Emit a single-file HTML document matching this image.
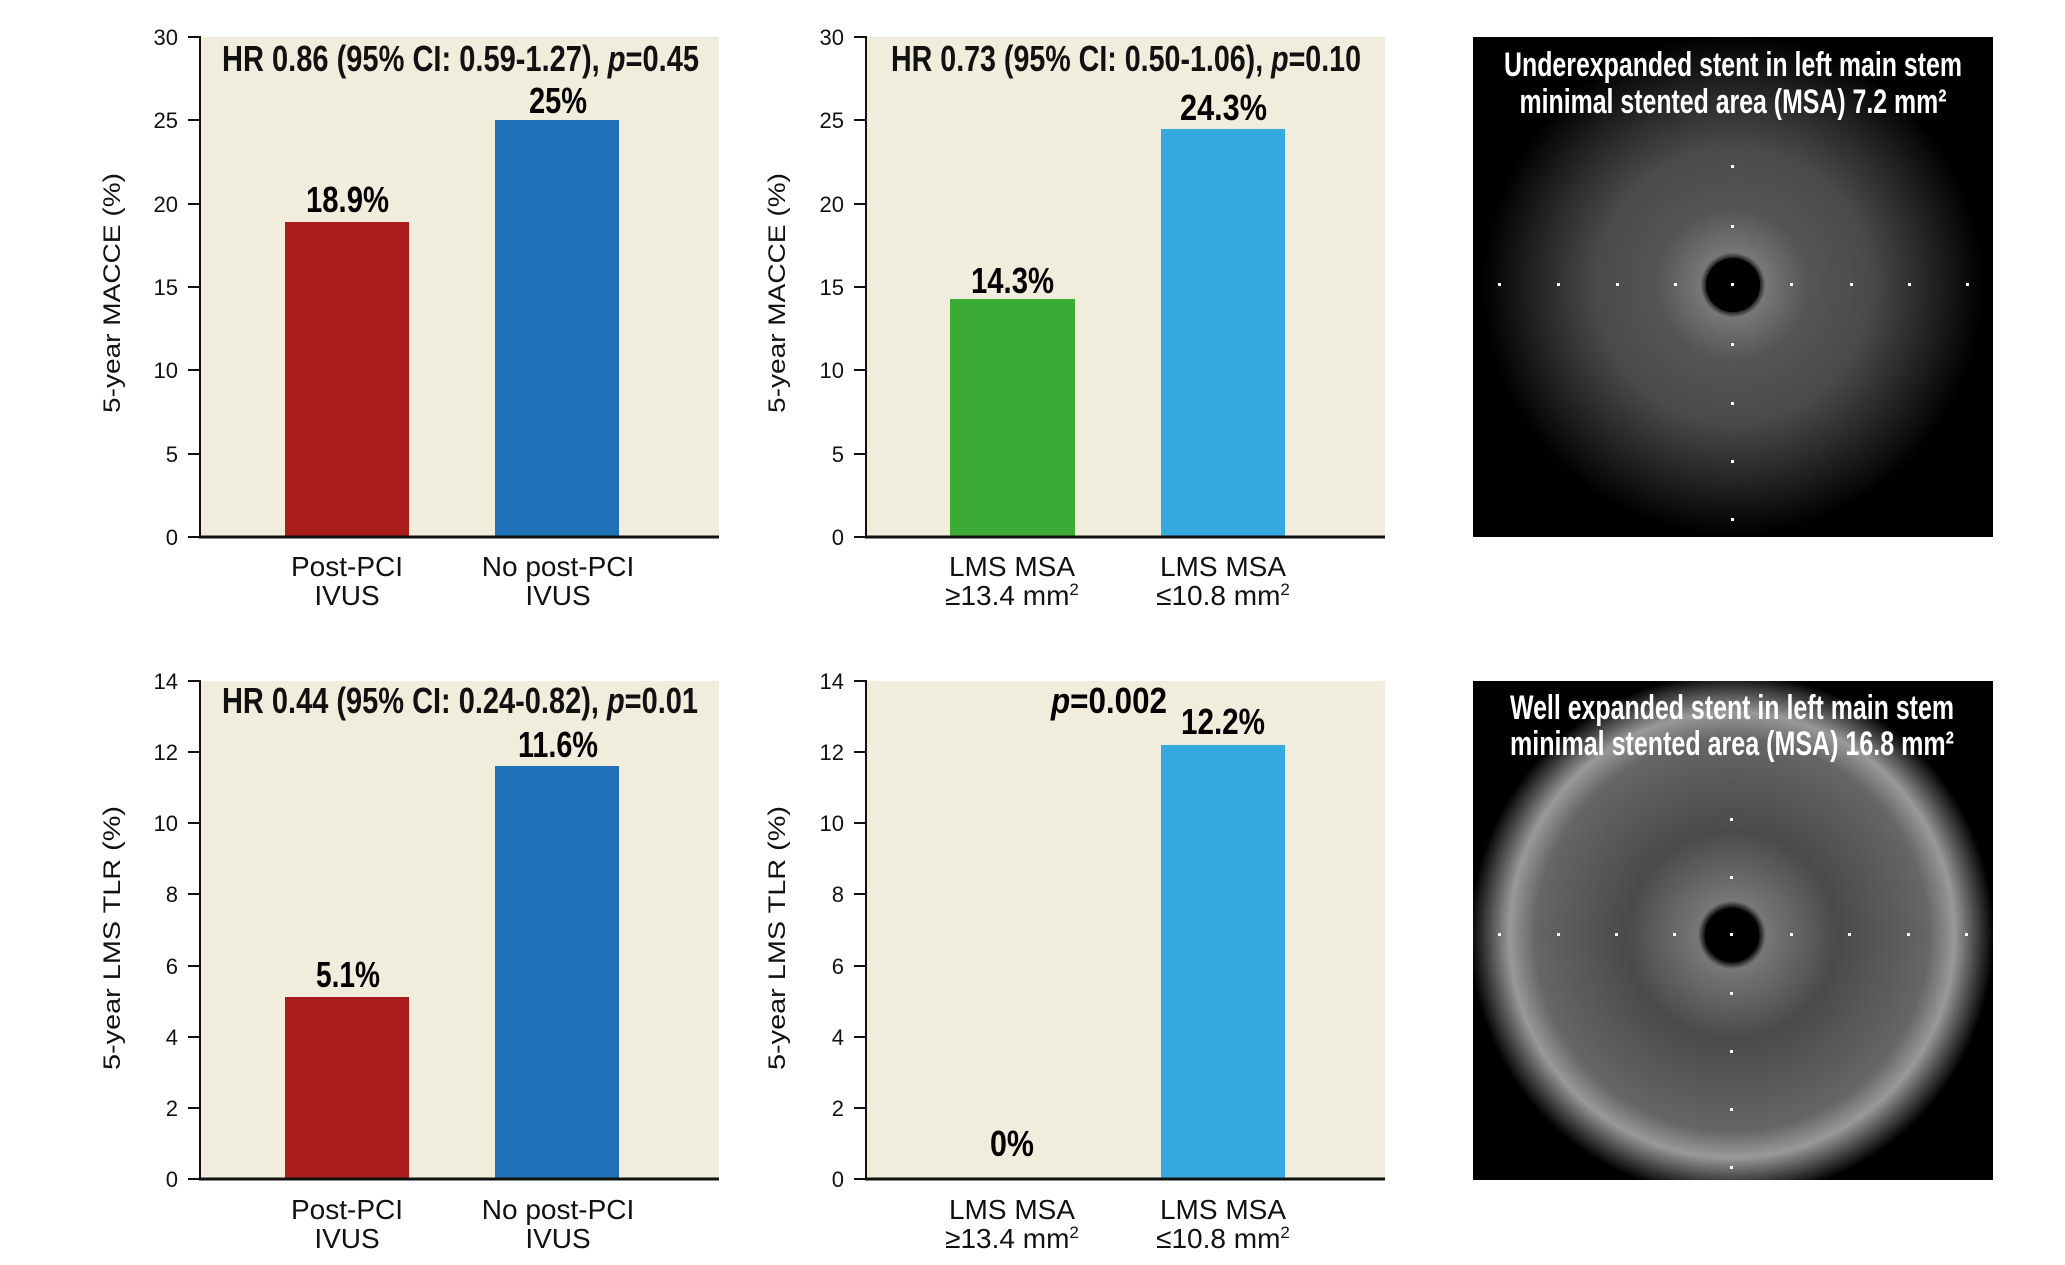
<!DOCTYPE html>
<html><head><meta charset="utf-8"><style>
html,body{margin:0;padding:0;background:#fff}
svg{display:block}
.t{font-family:"Liberation Sans Narrow","Liberation Sans",sans-serif}
</style></head><body>
<svg width="2065" height="1265" viewBox="0 0 2065 1265" xmlns="http://www.w3.org/2000/svg">
<defs>
<radialGradient id="g1" cx="0.5" cy="0.5" r="0.5">
<stop offset="0" stop-color="#000"/>
<stop offset="0.1" stop-color="#000"/>
<stop offset="0.13" stop-color="#777"/>
<stop offset="0.3" stop-color="#555"/>
<stop offset="0.55" stop-color="#4a4a4a"/>
<stop offset="0.8" stop-color="#222"/>
<stop offset="1" stop-color="#000"/>
</radialGradient>
<radialGradient id="g2" cx="0.5" cy="0.5" r="0.5">
<stop offset="0" stop-color="#000"/>
<stop offset="0.1" stop-color="#000"/>
<stop offset="0.13" stop-color="#777"/>
<stop offset="0.4" stop-color="#4a4a4a"/>
<stop offset="0.75" stop-color="#666"/>
<stop offset="0.85" stop-color="#999"/>
<stop offset="0.95" stop-color="#333"/>
<stop offset="1" stop-color="#000"/>
</radialGradient>
<clipPath id="c1"><rect x="1473" y="37" width="520" height="500"/></clipPath>
<clipPath id="c2"><rect x="1473" y="681" width="520" height="499"/></clipPath>
</defs>

<!-- Row 1 Chart 1 -->
<rect x="200" y="37" width="519" height="500" fill="#f1eddc"/>
<rect x="285" y="222" width="124" height="315" fill="#a81c1c"/>
<rect x="495" y="120" width="124" height="417" fill="#1f71b8"/>
<g stroke="#111" stroke-width="2"><line x1="200" y1="36" x2="200" y2="538"/><line x1="199" y1="537" x2="719" y2="537" stroke-width="3"/>
<line x1="188" y1="37" x2="200" y2="37"/><line x1="188" y1="120" x2="200" y2="120"/><line x1="188" y1="204" x2="200" y2="204"/><line x1="188" y1="287" x2="200" y2="287"/><line x1="188" y1="370" x2="200" y2="370"/><line x1="188" y1="454" x2="200" y2="454"/><line x1="188" y1="537" x2="200" y2="537"/></g>
<g class="t" font-size="22" text-anchor="end" fill="#111"><text x="178" y="45">30</text><text x="178" y="128">25</text><text x="178" y="212">20</text><text x="178" y="295">15</text><text x="178" y="378">10</text><text x="178" y="462">5</text><text x="178" y="545">0</text></g>
<text x="0" y="0" transform="translate(120,413) rotate(-90)" font-family="Liberation Sans,sans-serif" font-size="24" textLength="240" lengthAdjust="spacingAndGlyphs" fill="#111">5-year MACCE (%)</text>
<text class="t" x="222" y="71" font-size="36" font-weight="bold" textLength="477" lengthAdjust="spacingAndGlyphs" fill="#111">HR 0.86 (95% CI: 0.59-1.27), <tspan font-style="italic">p</tspan>=0.45</text>
<text class="t" x="306" y="212" font-size="36" font-weight="bold" textLength="83" lengthAdjust="spacingAndGlyphs">18.9%</text>
<text class="t" x="529" y="113" font-size="36" font-weight="bold" textLength="58" lengthAdjust="spacingAndGlyphs">25%</text>
<g class="t" font-size="28" text-anchor="middle" fill="#111"><text x="347" y="576">Post-PCI</text><text x="347" y="605">IVUS</text><text x="558" y="576">No post-PCI</text><text x="558" y="605">IVUS</text></g>

<!-- Row 1 Chart 2 -->
<rect x="866" y="37" width="519" height="500" fill="#f1eddc"/>
<rect x="950" y="299" width="125" height="238" fill="#3cab35"/>
<rect x="1161" y="129" width="124" height="408" fill="#36a9e0"/>
<g stroke="#111" stroke-width="2"><line x1="866" y1="36" x2="866" y2="538"/><line x1="865" y1="537" x2="1385" y2="537" stroke-width="3"/>
<line x1="854" y1="37" x2="866" y2="37"/><line x1="854" y1="120" x2="866" y2="120"/><line x1="854" y1="204" x2="866" y2="204"/><line x1="854" y1="287" x2="866" y2="287"/><line x1="854" y1="370" x2="866" y2="370"/><line x1="854" y1="454" x2="866" y2="454"/><line x1="854" y1="537" x2="866" y2="537"/></g>
<g class="t" font-size="22" text-anchor="end" fill="#111"><text x="844" y="45">30</text><text x="844" y="128">25</text><text x="844" y="212">20</text><text x="844" y="295">15</text><text x="844" y="378">10</text><text x="844" y="462">5</text><text x="844" y="545">0</text></g>
<text x="0" y="0" transform="translate(785,413) rotate(-90)" font-family="Liberation Sans,sans-serif" font-size="24" textLength="240" lengthAdjust="spacingAndGlyphs" fill="#111">5-year MACCE (%)</text>
<text class="t" x="891" y="71" font-size="36" font-weight="bold" textLength="470" lengthAdjust="spacingAndGlyphs" fill="#111">HR 0.73 (95% CI: 0.50-1.06), <tspan font-style="italic">p</tspan>=0.10</text>
<text class="t" x="971" y="293" font-size="36" font-weight="bold" textLength="83" lengthAdjust="spacingAndGlyphs">14.3%</text>
<text class="t" x="1180" y="120" font-size="36" font-weight="bold" textLength="87" lengthAdjust="spacingAndGlyphs">24.3%</text>
<g class="t" font-size="28" text-anchor="middle" fill="#111"><text x="1012" y="576">LMS MSA</text><text x="1012" y="605">≥13.4 mm<tspan font-size="17" dy="-10">2</tspan></text><text x="1223" y="576">LMS MSA</text><text x="1223" y="605">≤10.8 mm<tspan font-size="17" dy="-10">2</tspan></text></g>

<!-- Row 2 Chart 1 -->
<rect x="200" y="681" width="519" height="498" fill="#f1eddc"/>
<rect x="285" y="997" width="124" height="182" fill="#a81c1c"/>
<rect x="495" y="766" width="124" height="413" fill="#1f71b8"/>
<g stroke="#111" stroke-width="2"><line x1="200" y1="680" x2="200" y2="1180"/><line x1="199" y1="1179" x2="719" y2="1179" stroke-width="3"/>
<line x1="188" y1="681" x2="200" y2="681"/><line x1="188" y1="752" x2="200" y2="752"/><line x1="188" y1="823" x2="200" y2="823"/><line x1="188" y1="894" x2="200" y2="894"/><line x1="188" y1="966" x2="200" y2="966"/><line x1="188" y1="1037" x2="200" y2="1037"/><line x1="188" y1="1108" x2="200" y2="1108"/><line x1="188" y1="1179" x2="200" y2="1179"/></g>
<g class="t" font-size="22" text-anchor="end" fill="#111"><text x="178" y="689">14</text><text x="178" y="760">12</text><text x="178" y="831">10</text><text x="178" y="902">8</text><text x="178" y="974">6</text><text x="178" y="1045">4</text><text x="178" y="1116">2</text><text x="178" y="1187">0</text></g>
<text x="0" y="0" transform="translate(120,1070) rotate(-90)" font-family="Liberation Sans,sans-serif" font-size="24" textLength="264" lengthAdjust="spacingAndGlyphs" fill="#111">5-year LMS TLR (%)</text>
<text class="t" x="222" y="713" font-size="36" font-weight="bold" textLength="476" lengthAdjust="spacingAndGlyphs" fill="#111">HR 0.44 (95% CI: 0.24-0.82), <tspan font-style="italic">p</tspan>=0.01</text>
<text class="t" x="316" y="987" font-size="36" font-weight="bold" textLength="64" lengthAdjust="spacingAndGlyphs">5.1%</text>
<text class="t" x="518" y="757" font-size="36" font-weight="bold" textLength="80" lengthAdjust="spacingAndGlyphs">11.6%</text>
<g class="t" font-size="28" text-anchor="middle" fill="#111"><text x="347" y="1219">Post-PCI</text><text x="347" y="1248">IVUS</text><text x="558" y="1219">No post-PCI</text><text x="558" y="1248">IVUS</text></g>

<!-- Row 2 Chart 2 -->
<rect x="866" y="681" width="519" height="498" fill="#f1eddc"/>
<rect x="1161" y="745" width="124" height="434" fill="#36a9e0"/>
<g stroke="#111" stroke-width="2"><line x1="866" y1="680" x2="866" y2="1180"/><line x1="865" y1="1179" x2="1385" y2="1179" stroke-width="3"/>
<line x1="854" y1="681" x2="866" y2="681"/><line x1="854" y1="752" x2="866" y2="752"/><line x1="854" y1="823" x2="866" y2="823"/><line x1="854" y1="894" x2="866" y2="894"/><line x1="854" y1="966" x2="866" y2="966"/><line x1="854" y1="1037" x2="866" y2="1037"/><line x1="854" y1="1108" x2="866" y2="1108"/><line x1="854" y1="1179" x2="866" y2="1179"/></g>
<g class="t" font-size="22" text-anchor="end" fill="#111"><text x="844" y="689">14</text><text x="844" y="760">12</text><text x="844" y="831">10</text><text x="844" y="902">8</text><text x="844" y="974">6</text><text x="844" y="1045">4</text><text x="844" y="1116">2</text><text x="844" y="1187">0</text></g>
<text x="0" y="0" transform="translate(785,1070) rotate(-90)" font-family="Liberation Sans,sans-serif" font-size="24" textLength="264" lengthAdjust="spacingAndGlyphs" fill="#111">5-year LMS TLR (%)</text>
<text class="t" x="1051" y="713" font-size="36" font-weight="bold" textLength="116" lengthAdjust="spacingAndGlyphs"><tspan font-style="italic">p</tspan>=0.002</text>
<text class="t" x="1181" y="734" font-size="36" font-weight="bold" textLength="84" lengthAdjust="spacingAndGlyphs">12.2%</text>
<text class="t" x="990" y="1156" font-size="36" font-weight="bold" textLength="44" lengthAdjust="spacingAndGlyphs">0%</text>
<g class="t" font-size="28" text-anchor="middle" fill="#111"><text x="1012" y="1219">LMS MSA</text><text x="1012" y="1248">≥13.4 mm<tspan font-size="17" dy="-10">2</tspan></text><text x="1223" y="1219">LMS MSA</text><text x="1223" y="1248">≤10.8 mm<tspan font-size="17" dy="-10">2</tspan></text></g>

<!-- IVUS image 1 -->
<rect x="1473" y="37" width="520" height="500" fill="#000"/>
<g clip-path="url(#c1)">
<circle cx="1733" cy="285" r="250" fill="url(#g1)"/>
<circle cx="1733" cy="285" r="27" fill="#000"/>
</g>
<g fill="#fff"><rect x="1731" y="165" width="3" height="3"/><rect x="1731" y="225" width="3" height="3"/><rect x="1731" y="283" width="3" height="3"/><rect x="1731" y="343" width="3" height="3"/><rect x="1731" y="402" width="3" height="3"/><rect x="1731" y="460" width="3" height="3"/><rect x="1731" y="518" width="3" height="3"/><rect x="1498" y="283" width="3" height="3"/><rect x="1557" y="283" width="3" height="3"/><rect x="1616" y="283" width="3" height="3"/><rect x="1674" y="283" width="3" height="3"/><rect x="1790" y="283" width="3" height="3"/><rect x="1850" y="283" width="3" height="3"/><rect x="1908" y="283" width="3" height="3"/><rect x="1966" y="283" width="3" height="3"/></g>
<g class="t" font-size="34" font-weight="bold" fill="#fff" text-anchor="middle"><text x="1733" y="76" textLength="458" lengthAdjust="spacingAndGlyphs">Underexpanded stent in left main stem</text><text x="1733" y="113" textLength="427" lengthAdjust="spacingAndGlyphs">minimal stented area (MSA) 7.2 mm²</text></g>

<!-- IVUS image 2 -->
<rect x="1473" y="681" width="520" height="499" fill="#000"/>
<g clip-path="url(#c2)">
<circle cx="1732" cy="935" r="262" fill="url(#g2)"/>
<circle cx="1732" cy="935" r="27" fill="#000"/>
</g>
<g fill="#fff"><rect x="1730" y="818" width="3" height="3"/><rect x="1730" y="876" width="3" height="3"/><rect x="1730" y="933" width="3" height="3"/><rect x="1730" y="992" width="3" height="3"/><rect x="1730" y="1050" width="3" height="3"/><rect x="1730" y="1108" width="3" height="3"/><rect x="1730" y="1166" width="3" height="3"/><rect x="1498" y="933" width="3" height="3"/><rect x="1557" y="933" width="3" height="3"/><rect x="1615" y="933" width="3" height="3"/><rect x="1673" y="933" width="3" height="3"/><rect x="1790" y="933" width="3" height="3"/><rect x="1848" y="933" width="3" height="3"/><rect x="1907" y="933" width="3" height="3"/><rect x="1965" y="933" width="3" height="3"/></g>
<g class="t" font-size="34" font-weight="bold" fill="#fff" text-anchor="middle"><text x="1732" y="719" textLength="444" lengthAdjust="spacingAndGlyphs">Well expanded stent in left main stem</text><text x="1732" y="755" textLength="444" lengthAdjust="spacingAndGlyphs">minimal stented area (MSA) 16.8 mm²</text></g>
</svg>
</body></html>
